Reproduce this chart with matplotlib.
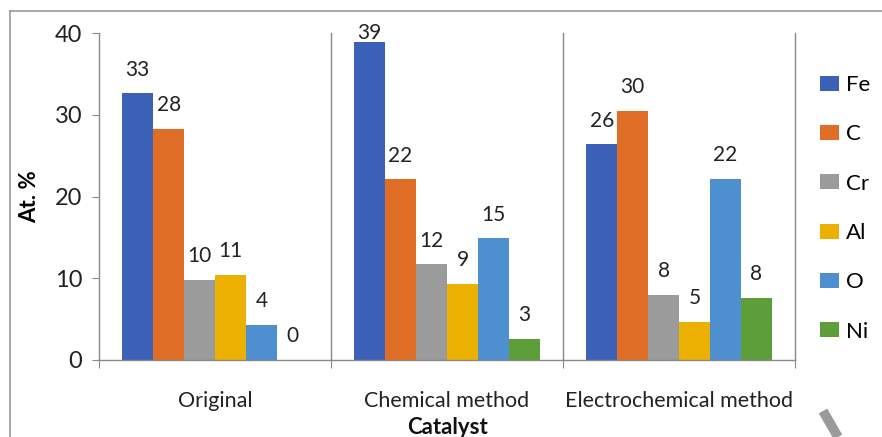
import matplotlib
matplotlib.use("Agg")
import matplotlib.pyplot as plt
import numpy as np
from matplotlib.lines import Line2D

categories = ["Original", "Chemical method", "Electrochemical method"]
elements = ["Fe", "C", "Cr", "Al", "O", "Ni"]
fe = [32.6, 38.9, 26.4]
c = [28.3, 22.1, 30.5]
cr = [9.8, 11.7, 8.0]
al = [10.4, 9.3, 4.7]
o = [4.3, 14.9, 22.2]
ni = [0.0, 2.6, 7.6]
labels_fe = ["33", "39", "26"]
labels_c = ["28", "22", "30"]
labels_cr = ["10", "12", "8"]
labels_al = ["11", "9", "5"]
labels_o = ["4", "15", "22"]
labels_ni = ["0", "3", "8"]
yticks = [0, 10, 20, 30, 40]

series = [fe, c, cr, al, o, ni]
series_labels = [labels_fe, labels_c, labels_cr, labels_al, labels_o, labels_ni]
colors = ["#3A61B5", "#E06D26", "#9B9B9B", "#EBB000", "#4E8FD0", "#5E9E3A"]

plt.rcParams['font.family'] = ['Lato', 'DejaVu Sans']

fig = plt.figure(figsize=(8.82, 4.37), dpi=100)
ax = fig.add_axes([99/882, 1-360/437, (795-99)/882, (360-33)/437])

n = len(elements)
bw = 0.8 / n
x = np.arange(len(categories))
ymax = 40
for i, (vals, labs, col, name) in enumerate(zip(series, series_labels, colors, elements)):
    pos = x - 0.4 + bw * (i + 0.5)
    ax.bar(pos, vals, width=bw, color=col, label=name, zorder=2)
    for px, v, lab in zip(pos, vals, labs):
        ax.annotate(lab, (px, v), xytext=(0, 17), textcoords="offset points",
                    ha="center", va="center", fontsize=15, color="#222222",
                    annotation_clip=False)

ax.set_xlim(-0.5, 2.5)
ax.set_ylim(0, ymax)
ax.set_yticks(yticks)
ax.tick_params(axis="y", length=5, color="#888888", labelsize=17, pad=7, labelcolor="#222222")

ax.set_xticks([-0.5, 0.5, 1.5, 2.5])
ax.set_xticklabels([])
ax.tick_params(axis="x", which="major", length=6, color="#888888")
ax.set_xticks(x, minor=True)
ax.set_xticklabels(categories, minor=True)
ax.tick_params(axis="x", which="minor", length=0, labelsize=15.5, pad=22, labelcolor="#222222")

ax.spines["top"].set_visible(False)
for s in ["left", "right", "bottom"]:
    ax.spines[s].set_color("#888888")
    ax.spines[s].set_linewidth(1.0)
for xv in [0.5, 1.5]:
    ax.axvline(xv, color="#888888", linewidth=1.0, zorder=1)

ax.set_ylabel("At. %", fontsize=16, fontweight="bold", va="center")
ax.yaxis.set_label_coords(-0.1, 0.5)
fig.text(0.5 * (99 + 795) / 882, 1 - 427/437, "Catalyst", fontsize=16, fontweight="bold",
         ha="center", va="center", color="#111111")

leg = fig.legend(loc="upper left", bbox_to_anchor=(820/882, 1-75/437), frameon=False,
                 fontsize=16, handlelength=0.85, handleheight=0.65, handletextpad=0.3,
                 labelspacing=1.32, borderaxespad=0, borderpad=0)

# outer chart border
fig.add_artist(Line2D([10/882, 10/882], [0, 1-11/437], transform=fig.transFigure, color="#999999", linewidth=1.2))
fig.add_artist(Line2D([10/882, 1], [1-11/437, 1-11/437], transform=fig.transFigure, color="#999999", linewidth=1.2))
# scan artifact stroke
fig.add_artist(Line2D([823/882, 838/882], [1-411/437, 0], transform=fig.transFigure, color="#9A9A9A", linewidth=7, solid_capstyle="butt"))

# clamp labels that would leave the plot area (as in the source chart)
fig.canvas.draw()
top_px = ax.transAxes.transform((0, 1))[1]
for t in ax.texts:
    bb = t.get_window_extent()
    cy = (bb.y0 + bb.y1) / 2
    if cy > top_px:
        t.xyann = (0, t.xyann[1] - (cy - top_px) * 72 / fig.dpi)

fig.savefig("out.png", dpi=100)
